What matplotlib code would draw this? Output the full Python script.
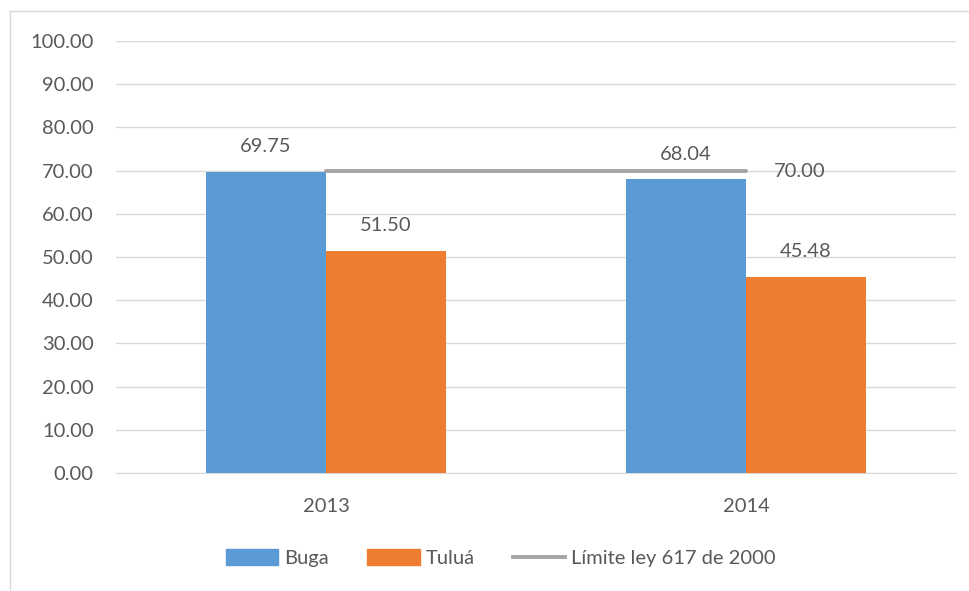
import matplotlib.pyplot as plt
from matplotlib.lines import Line2D
from matplotlib.patches import Patch
import numpy as np

plt.rcParams['font.family'] = ['Lato', 'DejaVu Sans']

years = ["2013", "2014"]
buga = [69.75, 68.04]
tulua = [51.50, 45.48]
limite = [70.00, 70.00]
yticks = [0, 10, 20, 30, 40, 50, 60, 70, 80, 90, 100]

c_buga = "#5B9BD5"
c_tulua = "#ED7D31"
c_lim = "#A5A5A5"
txt = "#595959"
fs = 14.5

fig = plt.figure(figsize=(9.69, 5.91), dpi=100)
ax = fig.add_axes([116 / 969, 118 / 591, 840 / 969, 432 / 591])

# outer chart frame (left + top visible)
fig.add_artist(Line2D([10 / 969, 10 / 969], [0, 1 - 11 / 591], color="#D9D9D9", lw=1))
fig.add_artist(Line2D([10 / 969, 1], [1 - 11 / 591, 1 - 11 / 591], color="#D9D9D9", lw=1))

x = np.arange(len(years))
w = 0.2857
ax.bar(x - w / 2, buga, w, color=c_buga, zorder=3)
ax.bar(x + w / 2, tulua, w, color=c_tulua, zorder=3)
ax.plot(x, limite, color=c_lim, lw=2.8, zorder=4, solid_capstyle='round')

for xi, v in zip(x - w / 2, buga):
    ax.annotate(f"{v:.2f}", (xi, v), xytext=(0, 18), textcoords="offset points",
                ha="center", va="center", fontsize=fs, color=txt)
for xi, v in zip(x + w / 2, tulua):
    ax.annotate(f"{v:.2f}", (xi, v), xytext=(0, 18), textcoords="offset points",
                ha="center", va="center", fontsize=fs, color=txt)
ax.annotate(f"{limite[-1]:.2f}", (x[-1], limite[-1]), xytext=(20, -1), textcoords="offset points",
            ha="left", va="center", fontsize=fs, color=txt)

ax.set_xlim(-0.5, 1.5)
ax.set_ylim(0, 100)
ax.set_yticks(yticks)
ax.set_yticklabels([f"{t:.2f}" for t in yticks])
ax.set_xticks(x)
ax.set_xticklabels(years)
ax.tick_params(axis="both", length=0, labelsize=fs, labelcolor=txt)
ax.tick_params(axis="y", pad=16)
ax.tick_params(axis="x", pad=18)
ax.grid(axis="y", color="#D9D9D9", lw=1, zorder=0)
for s in ["top", "right", "left"]:
    ax.spines[s].set_visible(False)
ax.spines["bottom"].set_color("#D9D9D9")

handles = [Patch(color=c_buga), Patch(color=c_tulua), Line2D([0], [0], color=c_lim, lw=2.8)]
fig.legend(handles, ["Buga", "Tuluá", "Límite ley 617 de 2000"], loc="center",
           bbox_to_anchor=(501 / 969, 1 - 558 / 591), ncol=3, frameon=False,
           fontsize=fs, labelcolor=txt, handlelength=2.6, handleheight=0.8,
           handletextpad=0.3, columnspacing=1.9)

fig.savefig("out.png", dpi=100)
